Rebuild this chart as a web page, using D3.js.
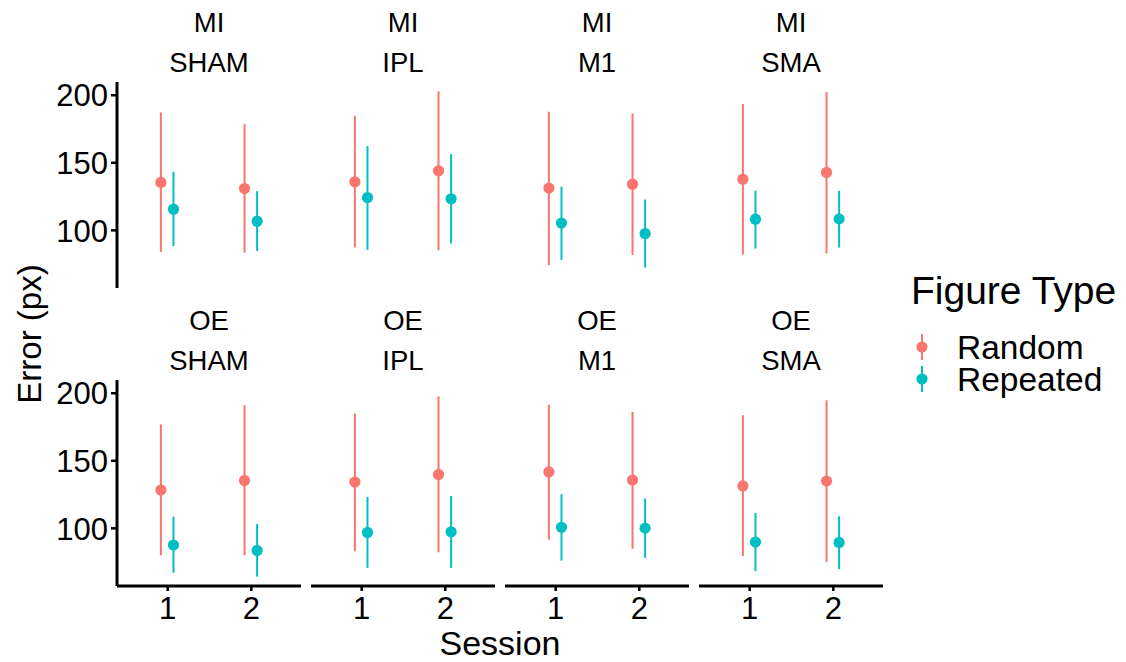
<!DOCTYPE html>
<html>
<head>
<meta charset="utf-8">
<script src="https://cdn.jsdelivr.net/npm/d3@7"></script>
<style>
  html, body { margin: 0; padding: 0; background: #fff; }
  svg text { font-family: "Liberation Sans", Arial, Helvetica, sans-serif; fill: #000; }
</style>
</head>
<body>
<svg id="chart" width="1126" height="662"></svg>
<script>
// Facet levels
const conditions = ["MI", "OE"];
const stimulations = ["SHAM", "IPL", "M1", "SMA"];
const sessions = ["1", "2"];
const figureTypes = ["Random", "Repeated"];
const yTicks = [100, 150, 200];

// Values ordered condition > stimulation > session
const randomMean  = [135.1, 130.6, 135.6, 143.7, 130.9, 133.8, 137.5, 142.5,
                     128.0, 135.1, 133.9, 139.5, 141.4, 135.4, 131.0, 134.6];
const randomLow   = [83.7, 83.2, 86.9, 85.0, 73.9, 81.5, 81.7, 82.5,
                     79.7, 79.7, 82.7, 81.9, 91.2, 84.6, 79.0, 74.8];
const randomHigh  = [186.9, 178.3, 184.4, 202.5, 187.4, 186.2, 193.1, 202.0,
                     176.6, 190.8, 184.6, 197.3, 191.2, 185.9, 183.4, 194.4];
const repeatedMean = [115.3, 106.4, 123.9, 123.0, 105.0, 97.3, 107.9, 108.1,
                      87.3, 83.2, 96.6, 97.1, 100.4, 99.8, 89.5, 89.2];
const repeatedLow  = [88.1, 84.4, 85.2, 89.9, 77.8, 72.1, 86.2, 86.9,
                      66.8, 63.9, 70.4, 70.4, 75.8, 77.8, 68.0, 69.5];
const repeatedHigh = [143.0, 128.6, 162.0, 156.0, 131.9, 122.5, 128.9, 128.9,
                      108.3, 102.9, 122.9, 123.6, 124.9, 121.7, 111.0, 108.5];

const colors = { Random: "#F8766D", Repeated: "#00BFC4" };

// Long-format rows
const rows = [];
conditions.forEach((c, ci) => stimulations.forEach((s, si) => sessions.forEach((ss, k) => {
  const i = ci * 8 + si * 2 + k;
  rows.push({ cond: c, stim: s, session: ss, type: "Random",
              mean: randomMean[i], lo: randomLow[i], hi: randomHigh[i] });
  rows.push({ cond: c, stim: s, session: ss, type: "Repeated",
              mean: repeatedMean[i], lo: repeatedLow[i], hi: repeatedHigh[i] });
})));

const svg = d3.select("#chart");

// Panel geometry
const panelLeft = 117, panelW = 184, panelGap = 10;
const rowTops = [82, 380], panelH = 206;

// Shared y scale with 5% expansion
const yMin = d3.min(rows, d => d.lo), yMax = d3.max(rows, d => d.hi);
const pad = (yMax - yMin) * 0.05;
const yDomain = [yMin - pad, yMax + pad];

const dodge = d3.scaleBand().domain(figureTypes).range([-12.6, 12.6]).padding(0);

conditions.forEach((cond, ri) => {
  const top = rowTops[ri];
  const y = d3.scaleLinear().domain(yDomain).range([top + panelH, top]);

  stimulations.forEach((stim, pi) => {
    const x0 = panelLeft + pi * (panelW + panelGap);
    const x = d3.scalePoint().domain(sessions).range([x0, x0 + panelW]).padding(0.6);
    const g = svg.append("g");

    // Strip labels
    const cx = x0 + panelW / 2;
    g.append("text").attr("x", cx).attr("y", top - 50).attr("text-anchor", "middle")
      .attr("font-size", 27.5).attr("fill", "#1a1a1a").text(cond);
    g.append("text").attr("x", cx).attr("y", top - 10).attr("text-anchor", "middle")
      .attr("font-size", 27.5).attr("fill", "#1a1a1a").text(stim);

    const data = rows.filter(d => d.cond === cond && d.stim === stim);
    const px = d => x(d.session) + dodge(d.type) + dodge.bandwidth() / 2;

    g.selectAll("line.err").data(data).join("line")
      .attr("class", "err")
      .attr("x1", px).attr("x2", px)
      .attr("y1", d => y(d.lo)).attr("y2", d => y(d.hi))
      .attr("stroke", d => colors[d.type]).attr("stroke-width", 2);

    g.selectAll("circle.pt").data(data).join("circle")
      .attr("class", "pt")
      .attr("cx", px).attr("cy", d => y(d.mean)).attr("r", 5.6)
      .attr("fill", d => colors[d.type]);

    // Y axis on first column
    if (pi === 0) {
      const ay = g.append("g").attr("transform", `translate(${x0},0)`)
        .call(d3.axisLeft(y).tickValues(yTicks).tickSize(6).tickPadding(3));
      ay.select(".domain").attr("stroke", "#000").attr("stroke-width", 3)
        .attr("d", `M0,${top + panelH}V${top}`);
      ay.selectAll(".tick line").attr("stroke", "#000").attr("stroke-width", 2.5);
      ay.selectAll(".tick text").attr("font-size", 31).attr("font-family", null)
        .attr("dy", "0.36em");
    }
    // X axis on bottom row
    if (ri === conditions.length - 1) {
      const ax = g.append("g").attr("transform", `translate(0,${top + panelH})`)
        .call(d3.axisBottom(x).tickSize(5).tickPadding(6));
      ax.select(".domain").attr("stroke", "#000").attr("stroke-width", 3)
        .attr("d", `M${x0},0H${x0 + panelW}`);
      ax.selectAll(".tick line").attr("stroke", "#000").attr("stroke-width", 2.5);
      ax.selectAll(".tick text").attr("font-size", 31).attr("font-family", null);
    }
  });
});

// Axis titles
svg.append("text").attr("x", panelLeft + (4 * panelW + 3 * panelGap) / 2).attr("y", 655)
  .attr("text-anchor", "middle").attr("font-size", 34).text("Session");
svg.append("text")
  .attr("transform", `translate(41,${(rowTops[0] + rowTops[1] + panelH) / 2}) rotate(-90)`)
  .attr("text-anchor", "middle").attr("font-size", 33).text("Error (px)");

// Legend
const lg = svg.append("g");
lg.append("text").attr("x", 911).attr("y", 304).attr("font-size", 39).text("Figure Type");
const legendY = d3.scalePoint().domain(figureTypes).range([347, 379]);
figureTypes.forEach(t => {
  const cy = legendY(t);
  lg.append("line").attr("x1", 922).attr("x2", 922).attr("y1", cy - 13).attr("y2", cy + 13)
    .attr("stroke", colors[t]).attr("stroke-width", 2);
  lg.append("circle").attr("cx", 922).attr("cy", cy).attr("r", 5.6).attr("fill", colors[t]);
  lg.append("text").attr("x", 957).attr("y", cy + 12).attr("font-size", 33.5).text(t);
});
</script>
</body>
</html>
